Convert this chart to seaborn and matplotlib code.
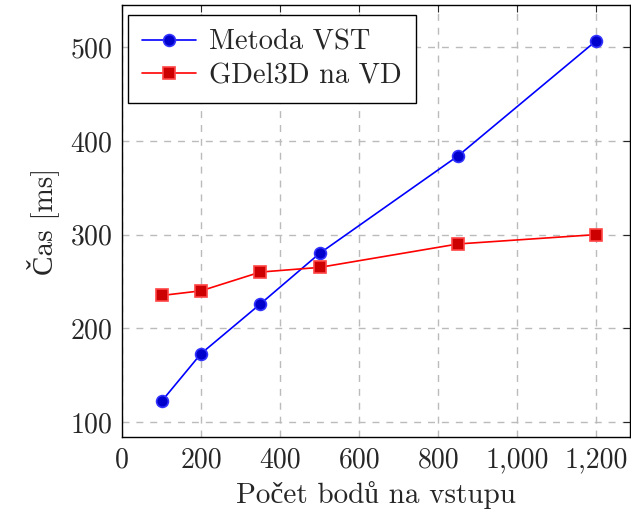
import pandas as pd
import numpy as np
import matplotlib
matplotlib.use('Agg')
import matplotlib.pyplot as plt
from matplotlib.ticker import StrMethodFormatter
import seaborn as sns

# Data
body = [100, 200, 350, 500, 850, 1200]
cas_vst = [122, 173, 226, 280, 384, 507]
cas_gdel = [235, 240, 260, 265, 290, 300]
labels = ['Metoda VST', 'GDel3D na VD']

df = pd.concat([
    pd.DataFrame({'Body': body, 'Cas': cas_vst, 'Metoda': labels[0]}),
    pd.DataFrame({'Body': body, 'Cas': cas_gdel, 'Metoda': labels[1]}),
])

sns.set_style('white')
plt.rcParams['font.family'] = ['cmr10', 'Liberation Serif']
plt.rcParams['mathtext.fontset'] = 'cm'
plt.rcParams['axes.formatter.use_mathtext'] = True

fig = plt.figure(figsize=(6.31, 5.13), dpi=100)
ax = fig.add_axes([122 / 631, 76 / 513, 508 / 631, 432 / 513])

styles = {
    labels[0]: dict(color='#0000ff', marker='o', mfc='#0000cc', mec='#3333ff', ms=8.5),
    labels[1]: dict(color='#ff0000', marker='s', mfc='#cc0000', mec='#ff4444', ms=8),
}
for name in labels:
    s = styles[name]
    sns.lineplot(data=df[df['Metoda'] == name], x='Body', y='Cas', ax=ax,
                 color=s['color'], marker=s['marker'], markersize=s['ms'],
                 markerfacecolor=s['mfc'], markeredgecolor=s['mec'],
                 markeredgewidth=1.2, linewidth=1.2, label=name)

ax.set_xlim(0, 1285)
ax.set_ylim(84, 545)
ax.set_xticks([0, 200, 400, 600, 800, 1000, 1200])
ax.set_yticks([100, 200, 300, 400, 500])
ax.xaxis.set_major_formatter(StrMethodFormatter('{x:,.0f}'))
ax.grid(True, color='#bbbbbb', linestyle=(0, (5, 5)), linewidth=1)
ax.tick_params(direction='in', length=5, width=0.8, labelsize=20,
               top=True, right=True, pad=7)
for sp in ax.spines.values():
    sp.set_color('black')
    sp.set_linewidth(1)

ax.set_xlabel('Počet bodů na vstupu', fontsize=21, labelpad=6)
ax.set_ylabel('Čas [ms]', fontsize=21, labelpad=8)

leg = ax.legend(loc='upper left', fontsize=20.5, frameon=True, fancybox=False,
                edgecolor='black', framealpha=1, borderpad=0.5,
                handlelength=1.9, handletextpad=0.45, labelspacing=0.25,
                borderaxespad=0, bbox_to_anchor=(6 / 508, 1 - 10 / 432))
leg.get_frame().set_linewidth(1)

fig.savefig('out.png', dpi=100)
plt.close(fig)
